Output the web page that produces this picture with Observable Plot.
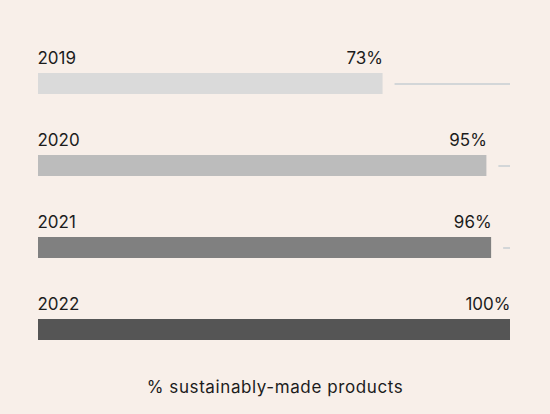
<!DOCTYPE html>
<html>
<head>
<meta charset="utf-8">
<script src="https://cdn.jsdelivr.net/npm/d3@7"></script>
<script src="https://cdn.jsdelivr.net/npm/@observablehq/plot@0.6"></script>
<style>
  body { margin: 0; background: #f8efe9; font-family: Inter, "Noto Sans", sans-serif; }
  #chart { width: 550px; }
  .caption { text-align: center; font-size: 17px; letter-spacing: 0.6px; color: #1c1c1c; margin-top: 17px; width: 550px; }
</style>
</head>
<body>
<div id="chart"></div>
<div class="caption">% sustainably-made products</div>
<script>
const years = ["2019", "2020", "2021", "2022"];
const shares = [73, 95, 96, 100];
const shades = ["#dadada", "#bcbcbc", "#808080", "#555555"];

const data = years.map((year, i) => ({ year, value: shares[i], color: shades[i] }));

const chart = Plot.plot({
    width: 550,
    height: 360,
    marginLeft: 38,
    marginRight: 40,
    marginTop: 72,
    marginBottom: 20,
    style: { background: "transparent", fontFamily: "Inter, 'Noto Sans', sans-serif", fontSize: "17px", color: "#1c1c1c" },
    x: { domain: [0, 100], axis: null },
    y: { domain: years, axis: null, paddingInner: 0.75, paddingOuter: 0 },
    marks: [
        Plot.barX(data, { x: "value", y: "year", fill: "color" }),
        Plot.ruleY(data.filter((d) => d.value < 100), {
            y: "year",
            x1: "value",
            x2: 100,
            insetLeft: 12,
            stroke: "#d3d6d8",
            strokeWidth: 2,
        }),
        Plot.text(data, {
            x: 0,
            y: "year",
            text: "year",
            textAnchor: "start",
            lineAnchor: "bottom",
            dy: -20,
            fill: "#1c1c1c",
            dx: -1,
        }),
        Plot.text(data, {
            x: "value",
            y: "year",
            text: (d) => `${d.value}%`,
            textAnchor: "end",
            lineAnchor: "bottom",
            dy: -20,
            fill: "#1c1c1c",
        }),
    ],
});

document.getElementById("chart").appendChild(chart);
</script>
</body>
</html>
